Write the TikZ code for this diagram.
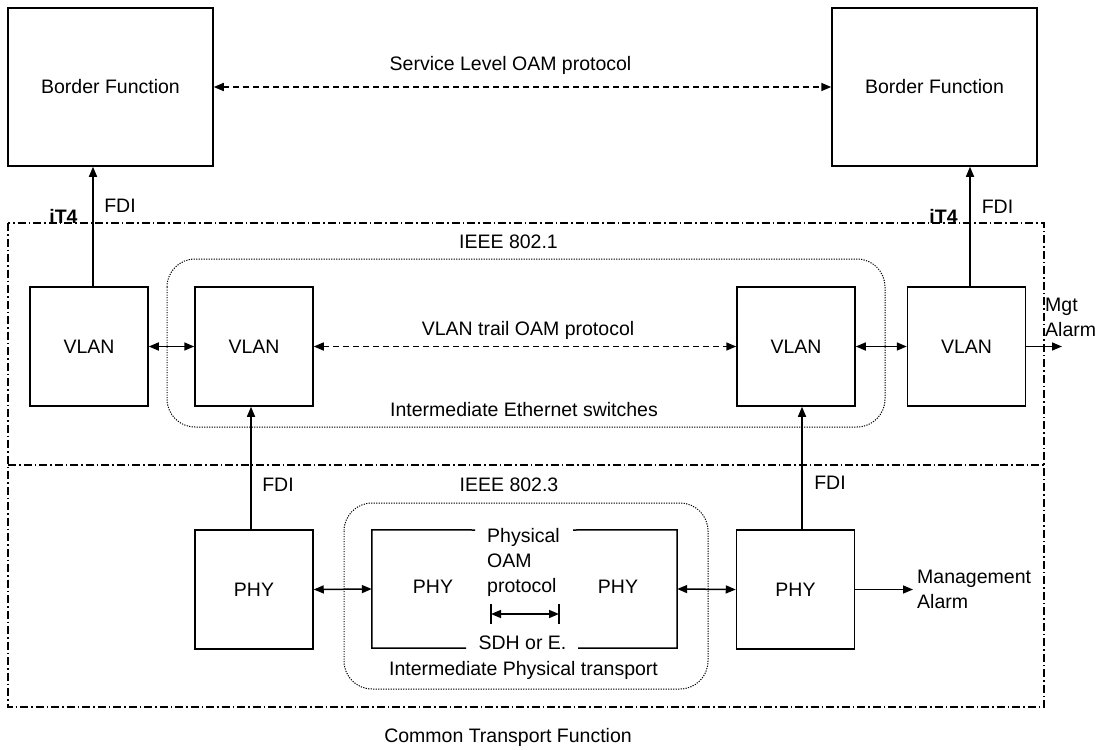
\documentclass[tikz,border=0pt]{standalone}
\usepackage{fontspec}
\setmainfont{Liberation Sans}
\usetikzlibrary{arrows.meta,calc}
\begin{document}
\begin{tikzpicture}[x=1pt,y=-1pt,
  >={Triangle[length=10pt,width=8pt]},
  every node/.style={font=\fontsize{19.5}{25}\selectfont, inner sep=0pt},
  fbox/.style={draw, line width=1.5pt, minimum width=118pt, minimum height=119pt},
  bigbox/.style={draw, line width=1.5pt, minimum width=205pt, minimum height=158pt},
  link/.style={line width=1.5pt},
  oam/.style={line width=1.5pt, dash pattern=on 6pt off 4pt},
  zonebox/.style={line width=1pt, dash pattern=on 1.2pt off 1.3pt, rounded corners=28pt},
  layerline/.style={line width=1.1pt, dash pattern=on 8pt off 3pt on 1.5pt off 3pt},
  lbl/.style={anchor=center}
]
\useasboundingbox (0,0) rectangle (1102,749);

% service level: border functions
\node[bigbox] (bfL) at (110.5,87) {Border Function};
\node[bigbox] (bfR) at (934.5,87) {Border Function};
\draw[oam,<->] (bfL.east) -- (bfR.west);
\node[lbl] (slo) at (510.5,65) {Service Level OAM protocol};

% transport layers
\draw[layerline] (8,223) rectangle (1044,707);
\draw[layerline] (8,465) -- (1044,465);
\node[lbl] (ctf) at (508,737) {Common Transport Function};

% IEEE 802.1 domain
\draw[zonebox] (167,259) rectangle (885,427);
\node[lbl] (ieee1) at (508.5,242) {IEEE 802.1};
\node[lbl] (ies) at (524,410) {Intermediate Ethernet switches};

\node[fbox] (v1) at (89,346.5) {VLAN};
\node[fbox] (v2) at (254,346.5) {VLAN};
\node[fbox] (v3) at (796,346.5) {VLAN};
\node[fbox] (v4) at (966.5,346.5) {VLAN};

\draw[link,<->] (v1.east) -- (v2.west);
\draw[link,<->] (v3.east) -- (v4.west);
\draw[oam,<->] (v2.east) -- (v3.west);
\node[lbl] (vto) at (528,330) {VLAN trail OAM protocol};

% FDI towards border functions
\draw[link,->] ([xshift=4pt]v1.north) -- ([xshift=4pt]v1.north |- bfL.south);
\draw[link,->] ([xshift=3.5pt]v4.north) -- ([xshift=3.5pt]v4.north |- bfR.south);
\node[lbl, font=\fontsize{19.5}{25}\selectfont\bfseries] (it4L) at (63.5,216) {iT4};
\node[lbl] (fdiL) at (120,206) {FDI};
\node[lbl, font=\fontsize{19.5}{25}\selectfont\bfseries] (it4R) at (943.5,216) {iT4};
\node[lbl] (fdiR) at (997.5,207) {FDI};

% VLAN management alarm
\coordinate (mgtEnd) at (1062,346.5);
\draw[link,->] (v4.east) -- (mgtEnd);
\node[anchor=west, align=left] (mgt) at (1045,317) {Mgt\\Alarm};

% IEEE 802.3 domain
\draw[zonebox] (344,503) rectangle (708,689);
\node[lbl] (ieee3) at (509,485) {IEEE 802.3};
\node[lbl] (ipt) at (523.5,670) {Intermediate Physical transport};

\node[fbox] (p1) at (254,589.5) {PHY};
\node[fbox] (p4) at (795.5,589.5) {PHY};

% intermediate physical transport: two PHYs sharing one frame
\node[minimum width=305pt, minimum height=118pt] (mid) at (524.5,589) {};
\draw[link] (475,530) -- (mid.north west) -- (mid.south west) -- (466,648);
\draw[link] (578,648) -- (mid.south east) -- (mid.north east) -- (573,530);
\node[lbl] (pm1) at (433,587) {PHY};
\node[lbl] (pm2) at (618,587) {PHY};
\node[anchor=north west, align=left] (poam) at (487,528) {Physical\\OAM\\protocol};
\coordinate (mL) at (491,614);
\coordinate (mR) at (559,614);
\draw[line width=1.2pt] ([yshift=-10pt]mL) -- ([yshift=10pt]mL);
\draw[line width=1.2pt] ([yshift=-10pt]mR) -- ([yshift=10pt]mR);
\draw[link,<->] (mL) -- (mR);
\node[lbl] (sdh) at (522.5,643) {SDH or E.};

\draw[link,<->] (p1.east) -- (mid.west);
\draw[link,<->] (mid.east) -- (p4.west);

% FDI towards VLANs
\draw[link,->] ([xshift=-3pt]p1.north) -- ([xshift=-3pt]p1.north |- v2.south);
\draw[link,->] ([xshift=6.5pt]p4.north) -- ([xshift=6.5pt]p4.north |- v3.south);
\node[lbl] (fdi3L) at (278,485) {FDI};
\node[lbl] (fdi3R) at (830,483) {FDI};

% physical management alarm
\coordinate (mgmtEnd) at (913,589.5);
\draw[link,->] (p4.east) -- (mgmtEnd);
\node[anchor=west, align=left] (mgmt) at (917,589.5) {Management\\Alarm};
\end{tikzpicture}
\end{document}
